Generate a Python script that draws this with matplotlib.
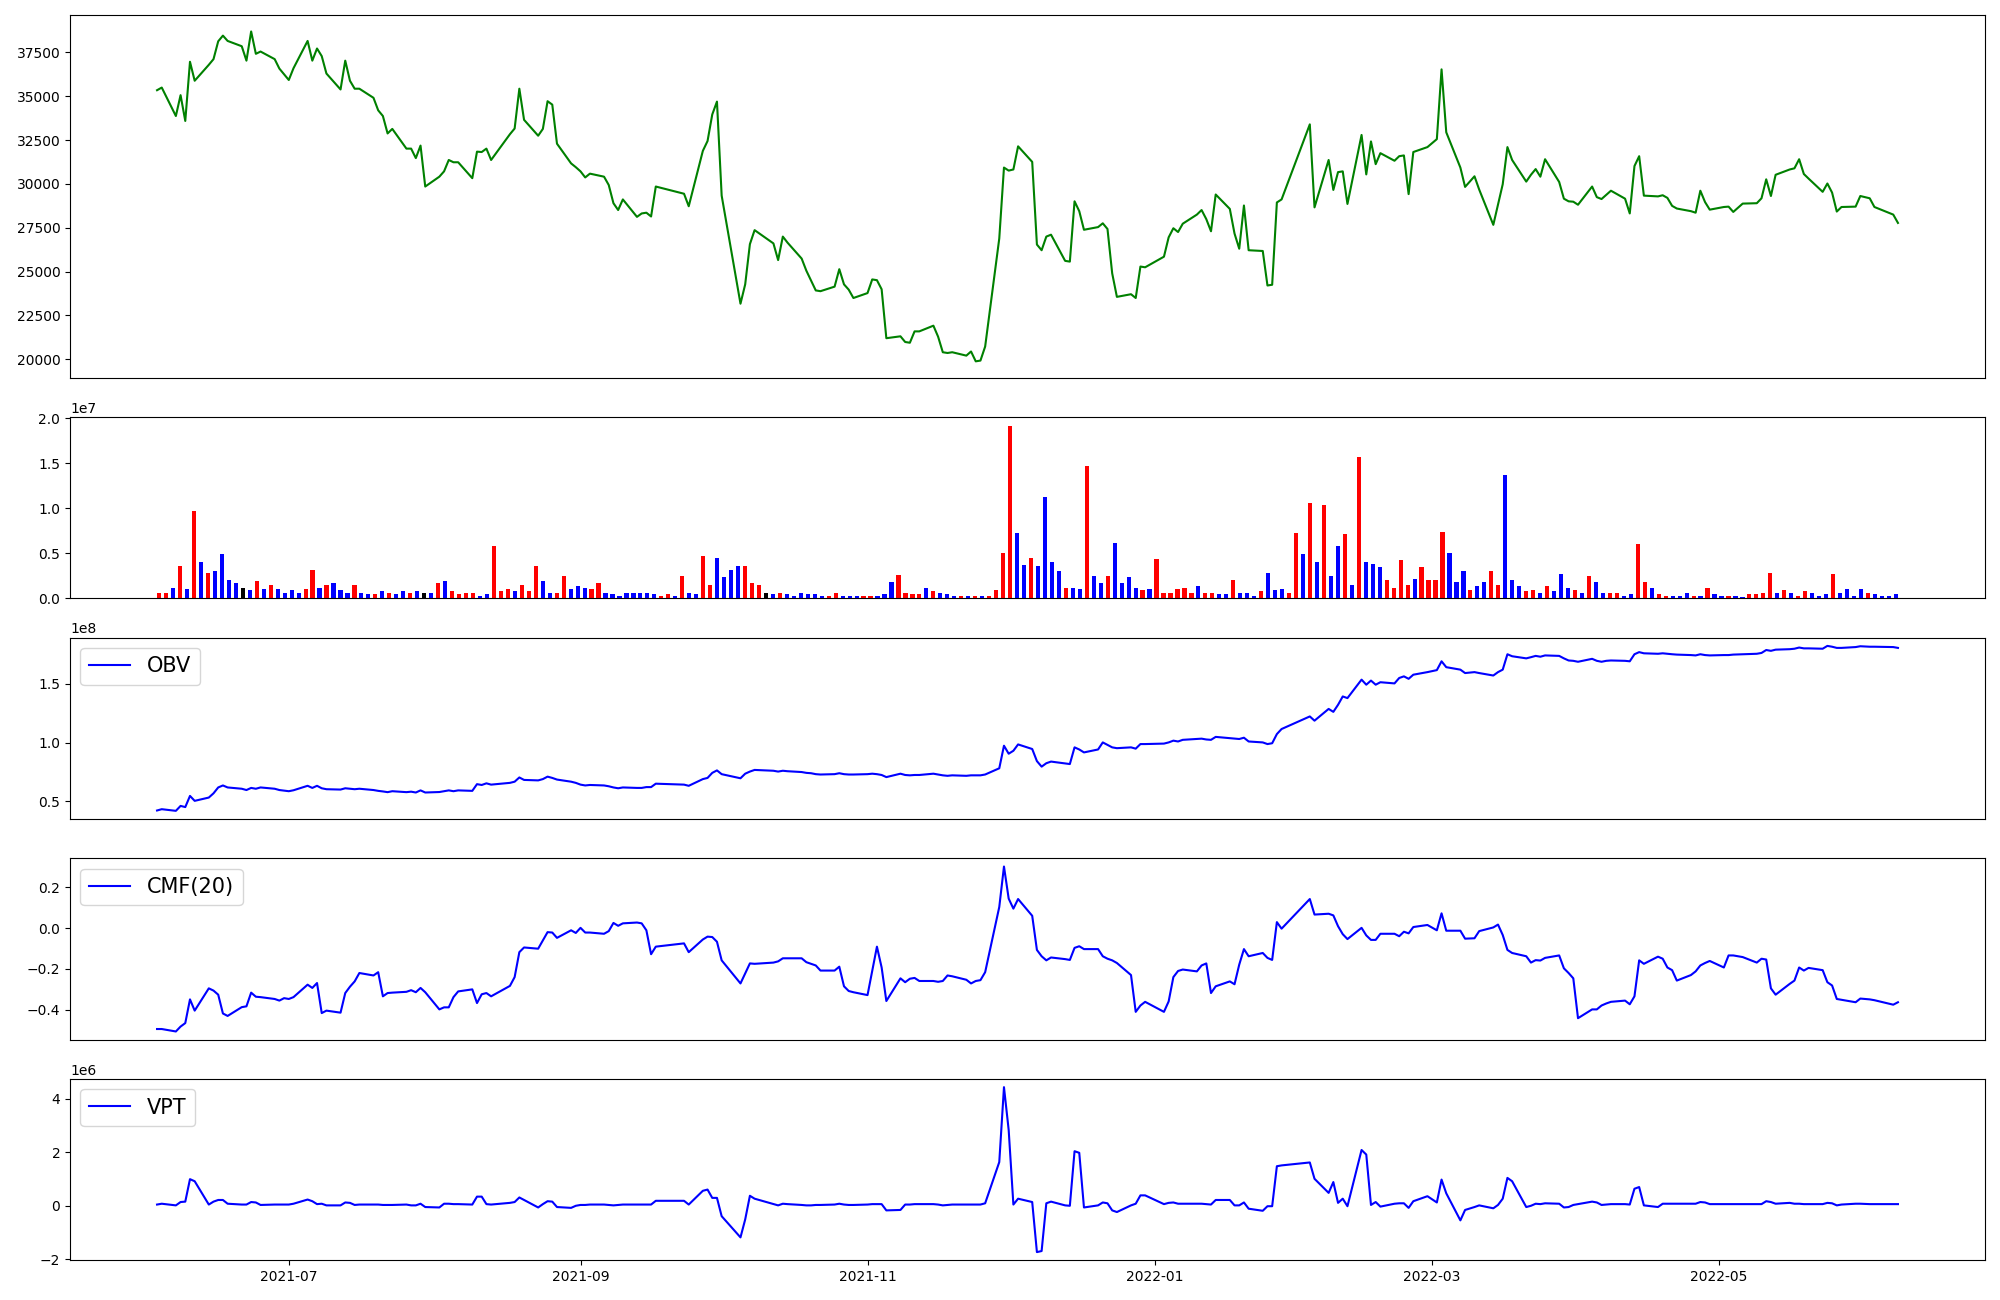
import numpy as np
import pandas as pd
import matplotlib
matplotlib.use("Agg")
import matplotlib.pyplot as plt
import matplotlib.dates as mdates

# ---- trading calendar (KRX sessions, 2021-06-03 .. 2022-06-08) ----
holidays = ["2021-08-16", "2021-09-20", "2021-09-21", "2021-09-22", "2021-10-04",
            "2021-10-11", "2021-12-31", "2022-01-31", "2022-02-01", "2022-02-02",
            "2022-03-01", "2022-03-09", "2022-05-05", "2022-06-01", "2022-06-06"]
dates = pd.bdate_range("2021-06-03", "2022-06-08", freq="C", holidays=holidays)

# ---- close price ----
close = [
    35343, 35494, 33872, 35062, 33591, 36964, 35883, 36791, 37115, 38132,
    38456, 38153, 37851, 37029, 38694, 37418, 37548, 37115, 36575, 36250,
    35926, 36596, 38153, 37029, 37721, 37288, 36294, 35386, 37029, 35883,
    35429, 35429, 34910, 34197, 33872, 32878, 33137, 32013, 32013, 31473,
    32186, 29851,
    30413, 30716, 31365, 31235, 31235, 30327, 31840, 31819, 32013, 31365,
    32835, 33159, 35429, 33656, 32748, 33137, 34716, 34521, 32294, 31170, 30954,
    30716, 30370, 30586, 30413, 29938, 28900, 28511, 29116, 28122, 28316,
    28359, 28143, 29851, 29440, 28727, 31884, 32446, 33959, 34694,
    29332, 23170, 24273, 26565, 27365, 26608, 25657, 26997, 26651, 25743,
    25051, 24489, 23927, 23884, 24143, 25138, 24273, 23971, 23495,
    23776, 24554, 24511, 23992, 21203, 21311, 20987, 20944, 21592, 21592,
    21917, 21290, 20403, 20360, 20403, 20209, 20446, 19884, 19927, 20727,
    26889, 30932,
    30759, 30824, 32143, 31256, 26543, 26219, 26997, 27105, 25613, 25570,
    29008, 28446, 27386, 27538, 27754, 27430, 24900, 23560, 23711, 23495,
    25289, 25246,
    25851, 26954, 27473, 27257, 27732, 28251, 28511, 27992, 27300, 29397,
    28575, 27170, 26305, 28770, 26219, 26176, 24208, 24251, 28943, 29116,
    33397, 28662, 31365, 29657, 30673, 30716, 28857, 32791, 30543, 32424,
    31127, 31754, 31321, 31581, 31624, 29419, 31819, 32100,
    32554, 36532, 32943, 30932, 29830, 30435, 29678, 27667, 28835, 29981,
    32100, 31365, 30132, 30521, 30846, 30413, 31408, 30110, 29159, 29008, 28986,
    28813, 29851, 29246, 29138, 29376, 29613, 29159, 28316, 31018, 31581,
    29332, 29289, 29354, 29203, 28749, 28597, 28446, 28359, 29613, 28965, 28532,
    28684, 28705, 28403, 28878, 28900, 29181, 30262, 29311, 30521, 30824,
    30889, 31408, 30565, 30305, 29548, 30024, 29505, 28424, 28684, 28705, 29311,
    29181, 28684, 28251, 27776,
]

# ---- volume (x 1e7) and candle direction (r = up, b = down, k = flat) ----
volume_e7 = [
    0.057, 0.066, 0.12, 0.36, 0.10, 0.97, 0.41, 0.28, 0.31, 0.49,
    0.21, 0.17, 0.12, 0.09, 0.19, 0.10, 0.15, 0.11, 0.066, 0.09,
    0.057, 0.11, 0.32, 0.12, 0.155, 0.17, 0.09, 0.066, 0.145, 0.057,
    0.045, 0.045, 0.08, 0.057, 0.045, 0.08, 0.066, 0.08, 0.066, 0.066,
    0.17, 0.19, 0.08, 0.045, 0.057, 0.057, 0.032, 0.045, 0.58, 0.08,
    0.11, 0.08, 0.145, 0.08, 0.36, 0.19, 0.057, 0.066, 0.245, 0.10,
    0.135, 0.12, 0.10, 0.17, 0.066, 0.045, 0.032, 0.066, 0.057, 0.057,
    0.057, 0.045, 0.032, 0.045, 0.024, 0.245, 0.066, 0.045, 0.47, 0.155,
    0.45, 0.235, 0.32, 0.36, 0.36, 0.17, 0.145, 0.066, 0.045, 0.066,
    0.045, 0.032, 0.057, 0.045, 0.045, 0.032, 0.032, 0.066, 0.032, 0.024,
    0.024, 0.032, 0.024, 0.024, 0.045, 0.18, 0.26, 0.066, 0.045, 0.045,
    0.12, 0.08, 0.057, 0.045, 0.032, 0.024, 0.032, 0.032, 0.032, 0.024,
    0.09, 0.51, 1.92, 0.73, 0.37, 0.455, 0.365, 1.13, 0.41, 0.31,
    0.12, 0.12, 0.10, 1.47, 0.255, 0.17, 0.245, 0.62, 0.17, 0.235,
    0.12, 0.09, 0.11, 0.435, 0.066, 0.066, 0.10, 0.12, 0.057, 0.135,
    0.066, 0.057, 0.045, 0.045, 0.21, 0.066, 0.057, 0.032, 0.08, 0.28,
    0.09, 0.10, 0.057, 0.725, 0.49, 1.06, 0.40, 1.04, 0.245, 0.58,
    0.715, 0.155, 1.57, 0.40, 0.38, 0.345, 0.21, 0.12, 0.425, 0.155,
    0.22, 0.345, 0.20, 0.20, 0.735, 0.50, 0.18, 0.30, 0.09, 0.135,
    0.18, 0.31, 0.155, 1.37, 0.21, 0.135, 0.08, 0.09, 0.057, 0.135,
    0.08, 0.27, 0.12, 0.09, 0.066, 0.255, 0.18, 0.057, 0.057, 0.057,
    0.032, 0.045, 0.61, 0.18, 0.12, 0.045, 0.032, 0.024, 0.032, 0.057,
    0.032, 0.024, 0.12, 0.045, 0.032, 0.024, 0.032, 0.011, 0.045, 0.045,
    0.066, 0.28, 0.066, 0.09, 0.057, 0.032, 0.08, 0.057, 0.032, 0.045,
    0.27, 0.066, 0.10, 0.032, 0.10, 0.057, 0.045, 0.032, 0.024, 0.045,
]
direction = ("rrbrbrbrbb" "bbkbrbrbbb" "brrbrbbbrb" "brbrbbrbkb" "r"
             "brrrrbbrrr" "brrrbbrrbb" "brrbbbbbbb" "brrbrbbrrb" "bbbrrrkbrb"
             "bbbbbrrbbb" "rrbbbrrrrb" "rbbbrbrbrr" "rrbbrbbbbr" "bbrbbrbbbb"
             "rbrrrrrrbr" "rbbrbbbrbb" "brrbrbrbbr" "brbbbrrrrb" "rrrrbbbrbb"
             "rrbbbrrbrb" "bbrbrbbrrb" "brrbrrbbbr" "brbbrbbrrr" "rbrbrrbbbr"
             "bbbbrbbbb")

# ---- OBV (x 1e8) ----
obv_e8 = [
    0.423, 0.434, 0.420, 0.462, 0.452, 0.547, 0.505, 0.533, 0.569, 0.619,
    0.636, 0.619, 0.608, 0.597, 0.615, 0.608, 0.619, 0.608, 0.597, 0.592,
    0.587, 0.595, 0.633, 0.615, 0.633, 0.612, 0.604, 0.601, 0.612, 0.608,
    0.604, 0.608, 0.597, 0.590, 0.585, 0.579, 0.587, 0.579, 0.583, 0.576,
    0.594, 0.576,
    0.580, 0.587, 0.594, 0.587, 0.594, 0.590, 0.647, 0.640, 0.654, 0.643,
    0.658, 0.668, 0.704, 0.683, 0.679, 0.690, 0.711, 0.700, 0.686, 0.668, 0.658,
    0.643, 0.636, 0.640, 0.636, 0.629, 0.619, 0.612, 0.619, 0.615, 0.615,
    0.622, 0.622, 0.651, 0.643, 0.633, 0.690, 0.700, 0.743, 0.764,
    0.732, 0.697, 0.736, 0.754, 0.768, 0.761, 0.754, 0.761, 0.757, 0.750,
    0.743, 0.740, 0.732, 0.729, 0.732, 0.740, 0.732, 0.729, 0.729,
    0.732, 0.736, 0.732, 0.725, 0.707, 0.736, 0.725, 0.722, 0.725, 0.725,
    0.736, 0.729, 0.722, 0.718, 0.722, 0.718, 0.722, 0.722, 0.722, 0.729,
    0.782, 0.974,
    0.906, 0.931, 0.985, 0.946, 0.843, 0.796, 0.825, 0.839, 0.823, 0.818,
    0.960, 0.942, 0.917, 0.942, 1.002, 0.981, 0.960, 0.953, 0.960, 0.949,
    0.988, 0.988,
    0.992, 1.002, 1.017, 1.010, 1.024, 1.031, 1.034, 1.027, 1.024, 1.049,
    1.038, 1.034, 1.031, 1.042, 1.010, 1.002, 0.988, 0.995, 1.073, 1.116,
    1.223, 1.187, 1.287, 1.262, 1.322, 1.393, 1.379, 1.536, 1.493, 1.528,
    1.493, 1.514, 1.504, 1.550, 1.564, 1.543, 1.578, 1.600,
    1.617, 1.692, 1.642, 1.621, 1.592, 1.600, 1.592, 1.571, 1.600, 1.621,
    1.752, 1.735, 1.717, 1.727, 1.738, 1.731, 1.742, 1.738, 1.717, 1.699, 1.696,
    1.688, 1.713, 1.696, 1.688, 1.696, 1.699, 1.696, 1.692, 1.752, 1.770,
    1.760, 1.756, 1.760, 1.756, 1.752, 1.749, 1.745, 1.742, 1.752, 1.745, 1.742,
    1.745, 1.745, 1.749, 1.752, 1.756, 1.763, 1.788, 1.781, 1.791, 1.795,
    1.799, 1.809, 1.802, 1.802, 1.799, 1.823, 1.816, 1.806, 1.806, 1.813, 1.820,
    1.816, 1.816, 1.813, 1.806,
]

# ---- Chaikin money flow (20) ----
cmf = [
    -0.494, -0.494, -0.506, -0.482, -0.465, -0.349, -0.404, -0.295, -0.306, -0.326,
    -0.418, -0.430, -0.387, -0.383, -0.316, -0.336, -0.338, -0.347, -0.355, -0.343,
    -0.347, -0.338, -0.277, -0.293, -0.269, -0.416, -0.404, -0.414, -0.318, -0.287,
    -0.261, -0.220, -0.232, -0.216, -0.334, -0.318, -0.316, -0.312, -0.304, -0.314,
    -0.293, -0.314,
    -0.398, -0.388, -0.388, -0.338, -0.310, -0.300, -0.367, -0.324, -0.318, -0.334,
    -0.283, -0.240, -0.118, -0.095, -0.101, -0.060, -0.020, -0.022, -0.048, -0.011, -0.024,
    0.001, -0.022, -0.022, -0.028, -0.015, 0.025, 0.011, 0.023, 0.027, 0.023,
    -0.011, -0.128, -0.091, -0.075, -0.118, -0.056, -0.042, -0.044, -0.067,
    -0.158, -0.271, -0.222, -0.173, -0.175, -0.169, -0.163, -0.148, -0.148, -0.148,
    -0.167, -0.175, -0.183, -0.208, -0.208, -0.189, -0.285, -0.308, -0.314,
    -0.328, -0.210, -0.091, -0.193, -0.357, -0.246, -0.265, -0.248, -0.244, -0.259,
    -0.259, -0.263, -0.259, -0.232, -0.236, -0.253, -0.271, -0.259, -0.255, -0.216,
    0.103, 0.301,
    0.144, 0.095, 0.142, 0.060, -0.107, -0.138, -0.158, -0.144, -0.152, -0.156,
    -0.097, -0.089, -0.103, -0.103, -0.138, -0.150, -0.158, -0.171, -0.230, -0.410,
    -0.379, -0.361,
    -0.410, -0.359, -0.240, -0.210, -0.203, -0.212, -0.183, -0.173, -0.318, -0.285,
    -0.261, -0.275, -0.179, -0.103, -0.138, -0.122, -0.146, -0.156, 0.029, -0.003,
    0.142, 0.066, 0.070, 0.062, 0.009, -0.030, -0.054, 0.001, -0.036, -0.058,
    -0.058, -0.028, -0.028, -0.040, -0.018, -0.026, 0.005, 0.015,
    -0.011, 0.072, -0.013, -0.013, -0.052, -0.050, -0.015, 0.003, 0.017, -0.034,
    -0.107, -0.122, -0.138, -0.169, -0.157, -0.159, -0.146, -0.134, -0.197, -0.220, -0.246,
    -0.441, -0.398, -0.398, -0.379, -0.369, -0.361, -0.355, -0.373, -0.334, -0.158,
    -0.175, -0.140, -0.150, -0.193, -0.206, -0.257, -0.230, -0.212, -0.183, -0.171, -0.161,
    -0.193, -0.134, -0.134, -0.142, -0.169, -0.150, -0.154, -0.295, -0.326, -0.273,
    -0.257, -0.193, -0.208, -0.195, -0.206, -0.265, -0.281, -0.347, -0.351, -0.363, -0.345,
    -0.349, -0.353, -0.375, -0.363,
]

# ---- VPT (x 1e6) ----
vpt_e6 = [
    0.037, 0.068, 0.006, 0.131, 0.146, 0.986, 0.908, 0.037, 0.146, 0.208,
    0.208, 0.068, 0.037, 0.037, 0.131, 0.115, 0.022, 0.037, 0.037, 0.037,
    0.037, 0.068, 0.224, 0.162, 0.053, 0.068, 0.006, 0.006, 0.115, 0.100,
    0.022, 0.037, 0.037, 0.037, 0.022, 0.022, 0.022, 0.037, 0.006, 0.006,
    0.068, -0.056,
    -0.072, 0.068, 0.068, 0.053, 0.053, 0.037, 0.333, 0.333, 0.053, 0.037,
    0.100, 0.131, 0.302, 0.208, -0.072, 0.053, 0.162, 0.146, -0.056, -0.087, -0.009,
    0.022, 0.022, 0.037, 0.037, 0.022, 0.006, 0.022, 0.037, 0.037, 0.037,
    0.037, 0.037, 0.177, 0.177, 0.037, 0.551, 0.597, 0.286, 0.286,
    -0.398, -1.19, -0.52, 0.365, 0.256, 0.053, 0.006, 0.068, 0.053, 0.022,
    0.006, 0.006, 0.022, 0.022, 0.037, 0.068, 0.037, 0.022, 0.022,
    0.037, 0.053, 0.053, 0.053, -0.181, -0.165, 0.037, 0.037, 0.053, 0.053,
    0.053, 0.037, 0.006, 0.022, 0.037, 0.037, 0.037, 0.037, 0.037, 0.084,
    1.624, 4.424,
    2.822, 0.037, 0.256, 0.131, -1.74, -1.70, 0.084, 0.146, 0.006, -0.009,
    2.03, 1.97, -0.072, 0.006, 0.115, 0.084, -0.181, -0.243, 0.006, 0.068,
    0.380, 0.380,
    0.053, 0.100, 0.115, 0.068, 0.068, 0.068, 0.068, 0.053, 0.037, 0.208,
    0.208, 0.006, 0.006, 0.115, -0.118, -0.196, -0.025, -0.025, 1.469, 1.50,
    1.61, 1.00, 0.473, 0.877, 0.100, 0.256, -0.025, 2.076, 1.905, 0.022,
    0.131, -0.040, 0.068, 0.084, 0.084, -0.087, 0.162, 0.349,
    0.115, 0.970, 0.457, -0.554, -0.165, -0.056, 0.006, -0.103, 0.022, 0.256,
    1.033, 0.908, -0.056, -0.009, 0.068, 0.053, 0.084, 0.068, -0.072, -0.056, 0.022,
    0.053, 0.146, 0.115, 0.022, 0.037, 0.053, 0.053, 0.037, 0.628, 0.691,
    0.006, -0.056, 0.068, 0.068, 0.068, 0.068, 0.068, 0.068, 0.131, 0.115, 0.053,
    0.053, 0.053, 0.053, 0.053, 0.053, 0.053, 0.162, 0.131, 0.068, 0.100,
    0.068, 0.068, 0.053, 0.053, 0.053, 0.100, 0.084, 0.006, 0.037, 0.068, 0.068,
    0.053, 0.053, 0.053, 0.053,
]

color_map = {"r": "red", "b": "blue", "k": "black"}
bar_colors = [color_map[c] for c in direction]
volume = np.array(volume_e7) * 1e7
obv = np.array(obv_e8) * 1e8
vpt = np.array(vpt_e6) * 1e6

fig = plt.figure(figsize=(20, 13), dpi=100)
gs = fig.add_gridspec(5, 1, height_ratios=[2, 1, 1, 1, 1],
                      left=0.035, right=0.9925, top=0.9885, bottom=0.0305,
                      hspace=0.18)
ax0 = fig.add_subplot(gs[0])
ax1 = fig.add_subplot(gs[1])
ax2 = fig.add_subplot(gs[2])
ax3 = fig.add_subplot(gs[3])
ax4 = fig.add_subplot(gs[4])

ax0.plot(dates, close, color="green", linewidth=1.5)
ax0.set_xticks([])

ax1.bar(np.arange(len(volume)), volume, color=bar_colors, width=0.6)
ax1.set_xticks([])

ax2.plot(dates, obv, color="blue", linewidth=1.5, label="OBV")
ax2.legend(loc="upper left", fontsize=15)
ax2.set_xticks([])

ax3.plot(dates, cmf, color="blue", linewidth=1.5, label="CMF(20)")
ax3.legend(loc="upper left", fontsize=15)
ax3.set_xticks([])

ax4.plot(dates, vpt, color="blue", linewidth=1.5, label="VPT")
ax4.legend(loc="upper left", fontsize=15)
ax4.xaxis.set_major_locator(mdates.MonthLocator(bymonth=[1, 3, 5, 7, 9, 11]))
ax4.xaxis.set_major_formatter(mdates.DateFormatter("%Y-%m"))

fig.savefig("out.png", dpi=100)
